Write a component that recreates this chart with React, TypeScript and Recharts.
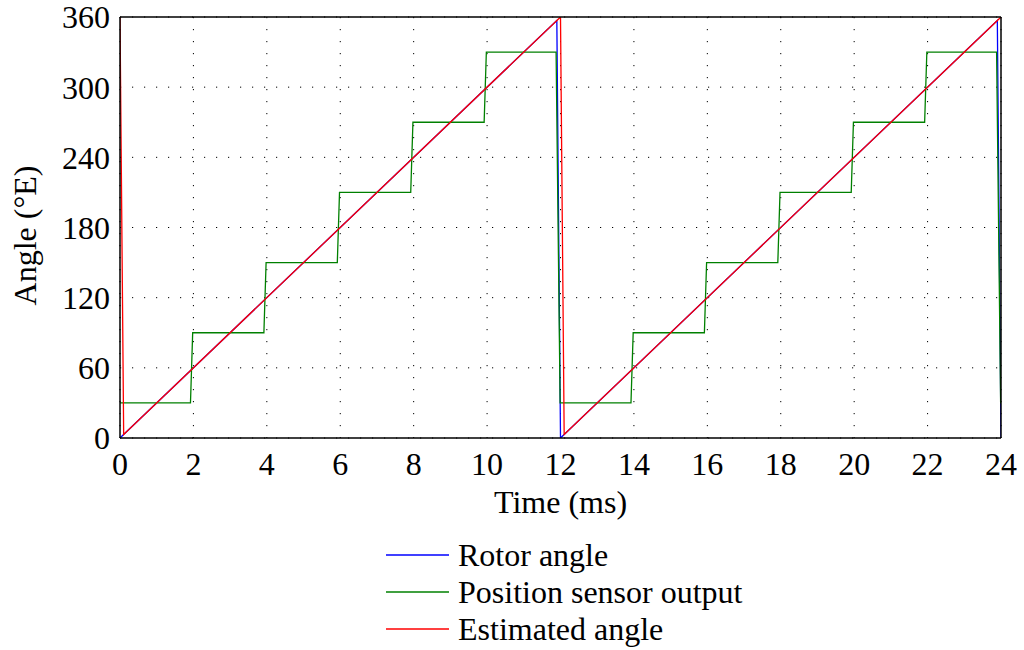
import React from 'react';
import { LineChart, Line, XAxis, YAxis, CartesianGrid, Legend } from 'recharts';

const rotorTime = [0, 11.9, 12, 23.9, 24];
const rotorAngle = [0, 357, 0, 357, 0];

const sensorTime = [0, 1.92, 1.98, 3.92, 3.98, 5.92, 5.98, 7.92, 7.98, 9.92, 9.98, 11.88, 11.99, 13.92, 13.98, 15.92, 15.98, 17.92, 17.98, 19.92, 19.98, 21.92, 21.98, 23.88, 23.99, 24];
const sensorAngle = [30, 30, 90, 90, 150, 150, 210, 210, 270, 270, 330, 330, 30, 30, 90, 90, 150, 150, 210, 210, 270, 270, 330, 330, 30, 30];

const estTime = [0, 0.1, 12, 12.1, 24];
const estAngle = [360, 3, 360, 3, 360];

const xTicks = [0, 2, 4, 6, 8, 10, 12, 14, 16, 18, 20, 22, 24];
const yTicks = [0, 60, 120, 180, 240, 300, 360];

const seriesNames = ['Rotor angle', 'Position sensor output', 'Estimated angle'];
const seriesColors = ['#0000ff', '#008000', '#ff0000'];

const zip = (t: number[], a: number[]) => t.map((v, i) => ({ t: v, a: a[i] }));
const rotorData = zip(rotorTime, rotorAngle);
const sensorData = zip(sensorTime, sensorAngle);
const estData = zip(estTime, estAngle);

const FONT = '"Liberation Serif", "Times New Roman", serif';
const FS = 32;

const LegendBox = () => (
  <div style={{ position: 'relative', width: 1024, height: 120, fontFamily: FONT, fontSize: FS, color: '#000' }}>
    {seriesNames.map((n, i) => (
      <div
        key={n}
        style={{ position: 'absolute', left: 386, top: 5 + i * 37, height: 40, display: 'flex', alignItems: 'center', whiteSpace: 'nowrap', lineHeight: '40px' }}
      >
        <svg width={63} height={4} style={{ display: 'block' }}>
          <line x1={0} y1={2} x2={63} y2={2} stroke={seriesColors[i]} strokeWidth={1.5} />
        </svg>
        <span style={{ marginLeft: 9 }}>{n}</span>
      </div>
    ))}
  </div>
);

const YLabel = (props: any) => {
  const vb = props.viewBox || { x: 50, y: 17, width: 70, height: 421 };
  const cx = 36;
  const cy = vb.y + vb.height / 2 + 8;
  return (
    <text x={cx} y={cy} transform={`rotate(-90, ${cx}, ${cy})`} textAnchor="middle" fontFamily={FONT} fontSize={FS} fill="#000">
      Angle (°E)
    </text>
  );
};

export default function App() {
  const tickStyle = { fontFamily: FONT, fontSize: FS, fill: '#000' };
  return (
    <div style={{ position: 'absolute', left: 0, top: 0, width: 1024, height: 650, background: '#fff' }}>
      <LineChart width={1024} height={650} margin={{ top: 17, right: 23, left: 50, bottom: 132 }}>
        <CartesianGrid xAxisId="b" yAxisId="l" stroke="#000" strokeDasharray="1.2 10.8" strokeWidth={1} />
        <XAxis
          xAxisId="b"
          dataKey="t"
          type="number"
          orientation="bottom"
          domain={[0, 24]}
          ticks={xTicks}
          interval={0}
          allowDataOverflow
          height={80}
          tickLine={false}
          tickSize={0}
          tickMargin={14}
          axisLine={{ stroke: '#000', strokeWidth: 1.5 }}
          tick={tickStyle}
          label={{ value: 'Time (ms)', position: 'insideBottom', offset: 5, style: { fontFamily: FONT, fontSize: FS, fill: '#000' } }}
        />
        <XAxis xAxisId="bm" dataKey="t" type="number" orientation="bottom" mirror domain={[0, 24]} ticks={xTicks} interval={0} tick={false} tickSize={8} tickLine={{ stroke: '#000' }} axisLine={false} />
        <XAxis xAxisId="tm" dataKey="t" type="number" orientation="top" mirror domain={[0, 24]} ticks={xTicks} interval={0} tick={false} tickSize={8} tickLine={{ stroke: '#000' }} axisLine={{ stroke: '#000', strokeWidth: 1.5 }} />
        <YAxis
          yAxisId="l"
          type="number"
          orientation="left"
          domain={[0, 360]}
          ticks={yTicks}
          interval={0}
          allowDataOverflow
          width={70}
          tickLine={false}
          tickSize={0}
          tickMargin={10}
          axisLine={{ stroke: '#000', strokeWidth: 1.5 }}
          tick={tickStyle}
          label={<YLabel />}
        />
        <YAxis yAxisId="lm" type="number" orientation="left" mirror domain={[0, 360]} ticks={yTicks} interval={0} tick={false} tickSize={8} tickLine={{ stroke: '#000' }} axisLine={false} />
        <YAxis yAxisId="rm" type="number" orientation="right" mirror domain={[0, 360]} ticks={yTicks} interval={0} tick={false} tickSize={8} tickLine={{ stroke: '#000' }} axisLine={{ stroke: '#000', strokeWidth: 1.5 }} />
        <Line xAxisId="b" yAxisId="l" data={rotorData} dataKey="a" name={seriesNames[0]} type="linear" stroke={seriesColors[0]} strokeWidth={1.3} dot={false} activeDot={false} isAnimationActive={false} />
        <Line xAxisId="b" yAxisId="l" data={sensorData} dataKey="a" name={seriesNames[1]} type="linear" stroke={seriesColors[1]} strokeWidth={1.3} dot={false} activeDot={false} isAnimationActive={false} />
        <Line xAxisId="b" yAxisId="l" data={estData} dataKey="a" name={seriesNames[2]} type="linear" stroke={seriesColors[2]} strokeWidth={1.3} dot={false} activeDot={false} isAnimationActive={false} />
        <Legend layout="vertical" align="center" verticalAlign="middle" wrapperStyle={{ top: 530, left: 0, width: 1024 }} content={<LegendBox />} />
      </LineChart>
    </div>
  );
}
